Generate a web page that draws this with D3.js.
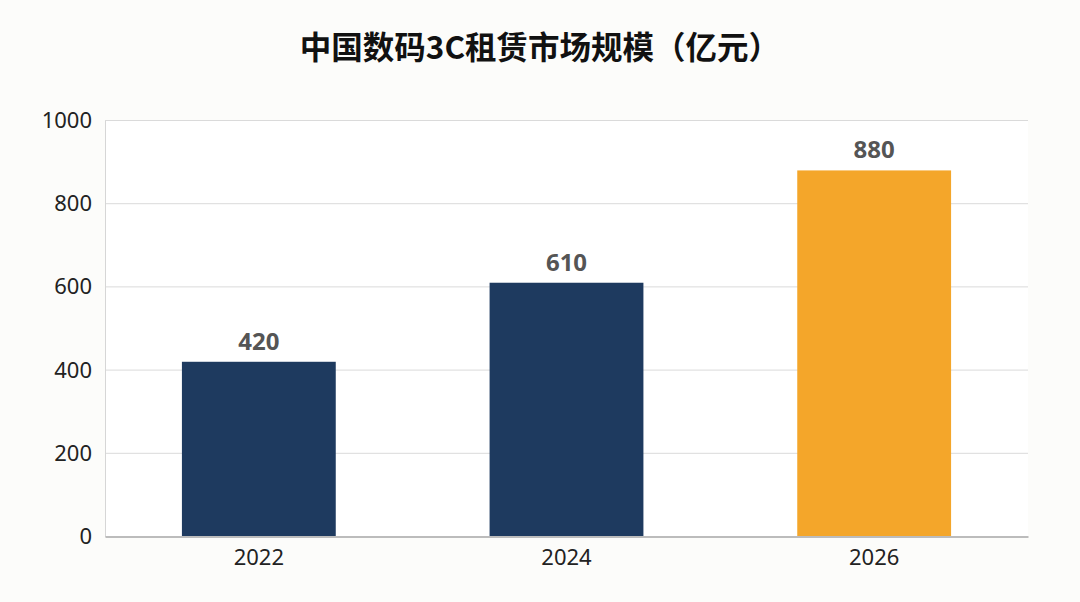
<!DOCTYPE html>
<html lang="zh">
<head>
  <meta charset="UTF-8">
  <title>中国数码3C租赁市场规模</title>
  <script src="https://cdnjs.cloudflare.com/ajax/libs/d3/7.8.5/d3.min.js"></script>
  <style>
    html, body { margin: 0; padding: 0; background: #fcfcfa; }
    #chart { width: 1080px; height: 602px; }
    .tick text { font-family: "Noto Sans", "Open Sans", sans-serif; fill: #222; }
  </style>
</head>
<body>
  <div id="chart"></div>
  <script>
// chart data
var years = ["2022", "2024", "2026"];
var marketSize = [420, 610, 880];
var barColors = ["#1e3a5f", "#1e3a5f", "#f4a62a"];
var yTicks = [0, 200, 400, 600, 800, 1000];

var svgWidth = 1080;
var svgHeight = 602;

var margin = { top: 120.5, right: 52, bottom: 65.5, left: 105 };

var width = svgWidth - margin.left - margin.right;
var height = svgHeight - margin.top - margin.bottom;

var svg = d3.select("#chart")
  .append("svg")
  .attr("width", svgWidth)
  .attr("height", svgHeight);

// title
svg.append("text")
  .attr("x", svgWidth / 2)
  .attr("y", 59)
  .attr("text-anchor", "middle")
  .style("font-family", "'Noto Sans CJK SC', sans-serif")
  .style("font-weight", "bold")
  .style("font-size", "31.5px")
  .style("fill", "#111")
  .text("中国数码3C租赁市场规模（亿元）");

var chartGroup = svg.append("g")
  .attr("transform", `translate(${margin.left}, ${margin.top})`);

// plot background
chartGroup.append("rect")
  .attr("width", width)
  .attr("height", height)
  .attr("fill", "#fff");

var xScale = d3.scaleBand()
  .domain(years)
  .range([0, width])
  .paddingInner(0.5)
  .paddingOuter(0.25);

var yScale = d3.scaleLinear()
  .domain([0, 1000])
  .range([height, 0]);

// gridlines
chartGroup.append("g")
  .selectAll("line")
  .data(yTicks.filter(d => d > 0))
  .enter()
  .append("line")
  .attr("x1", 0)
  .attr("x2", width)
  .attr("y1", d => yScale(d))
  .attr("y2", d => yScale(d))
  .attr("stroke", "#dadada")
  .attr("stroke-width", 1);

// left axis
var leftAxis = d3.axisLeft(yScale)
  .tickValues(yTicks)
  .tickFormat(d3.format("d"))
  .tickSize(0)
  .tickPadding(13);

var yAxis = chartGroup.append("g").call(leftAxis);
yAxis.select(".domain").attr("stroke", "#d6d6d6");
yAxis.selectAll("text").style("font-size", "22px");

// bars
chartGroup.selectAll(".bar")
  .data(marketSize)
  .enter()
  .append("rect")
  .attr("class", "bar")
  .attr("x", (d, i) => xScale(years[i]))
  .attr("y", d => yScale(d))
  .attr("width", xScale.bandwidth())
  .attr("height", d => height - yScale(d))
  .attr("fill", (d, i) => barColors[i]);

// value labels
chartGroup.selectAll(".value")
  .data(marketSize)
  .enter()
  .append("text")
  .attr("class", "value")
  .attr("x", (d, i) => xScale(years[i]) + xScale.bandwidth() / 2)
  .attr("y", d => yScale(d) - 12)
  .attr("text-anchor", "middle")
  .style("font-family", "'Noto Sans', 'Open Sans', sans-serif")
  .style("font-weight", "bold")
  .style("font-size", "24px")
  .style("fill", "#555")
  .text(d => d);

// bottom axis
var bottomAxis = d3.axisBottom(xScale)
  .tickSize(0)
  .tickPadding(13);

var xAxis = chartGroup.append("g")
  .attr("transform", `translate(0, ${height})`)
  .call(bottomAxis);
xAxis.select(".domain").attr("stroke", "#bcbcbc").attr("stroke-width", 2);
xAxis.selectAll("text").style("font-size", "22px");
  </script>
</body>
</html>
